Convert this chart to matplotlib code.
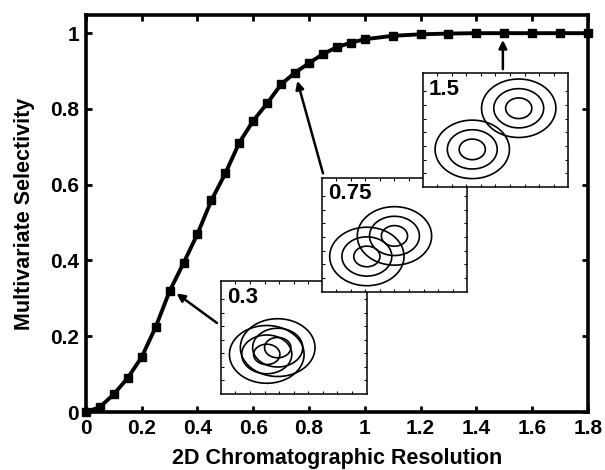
import numpy as np
import matplotlib.pyplot as plt

plt.rcParams['font.family'] = ['Liberation Sans', 'DejaVu Sans']
plt.rcParams['font.weight'] = 'bold'

# resolution vs multivariate selectivity
resolution = [0, 0.05, 0.1, 0.15, 0.2, 0.25, 0.3, 0.35, 0.4, 0.45, 0.5, 0.55,
              0.6, 0.65, 0.7, 0.75, 0.8, 0.85, 0.9, 0.95, 1.0,
              1.1, 1.2, 1.3, 1.4, 1.5, 1.6, 1.7, 1.8]
selectivity = [0, 0.013, 0.047, 0.09, 0.145, 0.224, 0.319, 0.393, 0.47, 0.559, 0.63, 0.711,
               0.769, 0.815, 0.865, 0.896, 0.921, 0.945, 0.963, 0.975, 0.984,
               0.993, 0.997, 0.999, 1.0, 1.0, 1.0, 1.0, 1.0]

# insets: label, peak centres (inset coords), arrow tail / head (main data coords)
inset_labels = ['0.3', '0.75', '1.5']
peak1 = [(0.315, 0.35), (0.31, 0.31), (0.34, 0.33)]
peak2 = [(0.39, 0.41), (0.50, 0.49), (0.66, 0.69)]
arrow_tail = [(0.47, 0.235), (0.85, 0.63), (1.495, 0.905)]
arrow_head = [(0.325, 0.313), (0.758, 0.874), (1.495, 0.982)]
sigma = 0.08
levels = [0.006, 0.1, 0.53]

fig = plt.figure(figsize=(6.05, 4.70), dpi=100)
ax = fig.add_axes([0.142, 0.1234, 0.8298, 0.8447])

ax.plot(resolution, selectivity, '-s', color='black', lw=2.8, ms=6, clip_on=False, zorder=5)

ax.set_xlim(0, 1.8)
ax.set_ylim(0, 1.048)
ax.set_xticks(np.arange(0, 1.81, 0.2))
ax.set_xticklabels(['0', '0.2', '0.4', '0.6', '0.8', '1', '1.2', '1.4', '1.6', '1.8'])
ax.set_yticks(np.arange(0, 1.01, 0.2))
ax.set_yticklabels(['0', '0.2', '0.4', '0.6', '0.8', '1'])
ax.tick_params(direction='in', length=4, width=2, top=True, right=True, labelsize=15, pad=5)
for s in ax.spines.values():
    s.set_linewidth(2.6)
ax.set_xlabel('2D Chromatographic Resolution', fontsize=15.5, fontweight='bold', labelpad=7)
ax.set_ylabel('Multivariate Selectivity', fontsize=15.5, fontweight='bold', labelpad=11)

for t, h in zip(arrow_tail, arrow_head):
    ax.annotate('', xy=h, xytext=t,
                arrowprops=dict(arrowstyle='-|>', color='black', lw=1.8, mutation_scale=12,
                                shrinkA=0, shrinkB=0))

# inset contour plots
positions = [[0.365, 0.162, 0.241, 0.240],
             [0.532, 0.379, 0.240, 0.243],
             [0.699, 0.602, 0.240, 0.243]]
g = np.linspace(0, 1, 300)
X, Y = np.meshgrid(g, g)
for i, pos in enumerate(positions):
    ia = fig.add_axes(pos, facecolor='white', zorder=10 + i)
    for cx, cy in (peak1[i], peak2[i]):
        Z = np.exp(-((X - cx) ** 2 + (Y - cy) ** 2) / (2 * sigma ** 2))
        ia.contour(X, Y, Z, levels=levels, colors='black', linewidths=1.2)
    ia.set_xlim(0, 1)
    ia.set_ylim(0, 1)
    ia.set_xticks(np.arange(0.1, 0.95, 0.1))
    ia.set_yticks(np.arange(0.12, 0.95, 0.12))
    ia.tick_params(direction='in', length=2, width=0.8, top=True, right=True,
                   labelbottom=False, labelleft=False)
    for s in ia.spines.values():
        s.set_linewidth(1.1)
    ia.text(0.04, 0.95, inset_labels[i], transform=ia.transAxes, fontsize=16,
            fontweight='bold', va='top', ha='left')

fig.savefig('out.png', dpi=100)
